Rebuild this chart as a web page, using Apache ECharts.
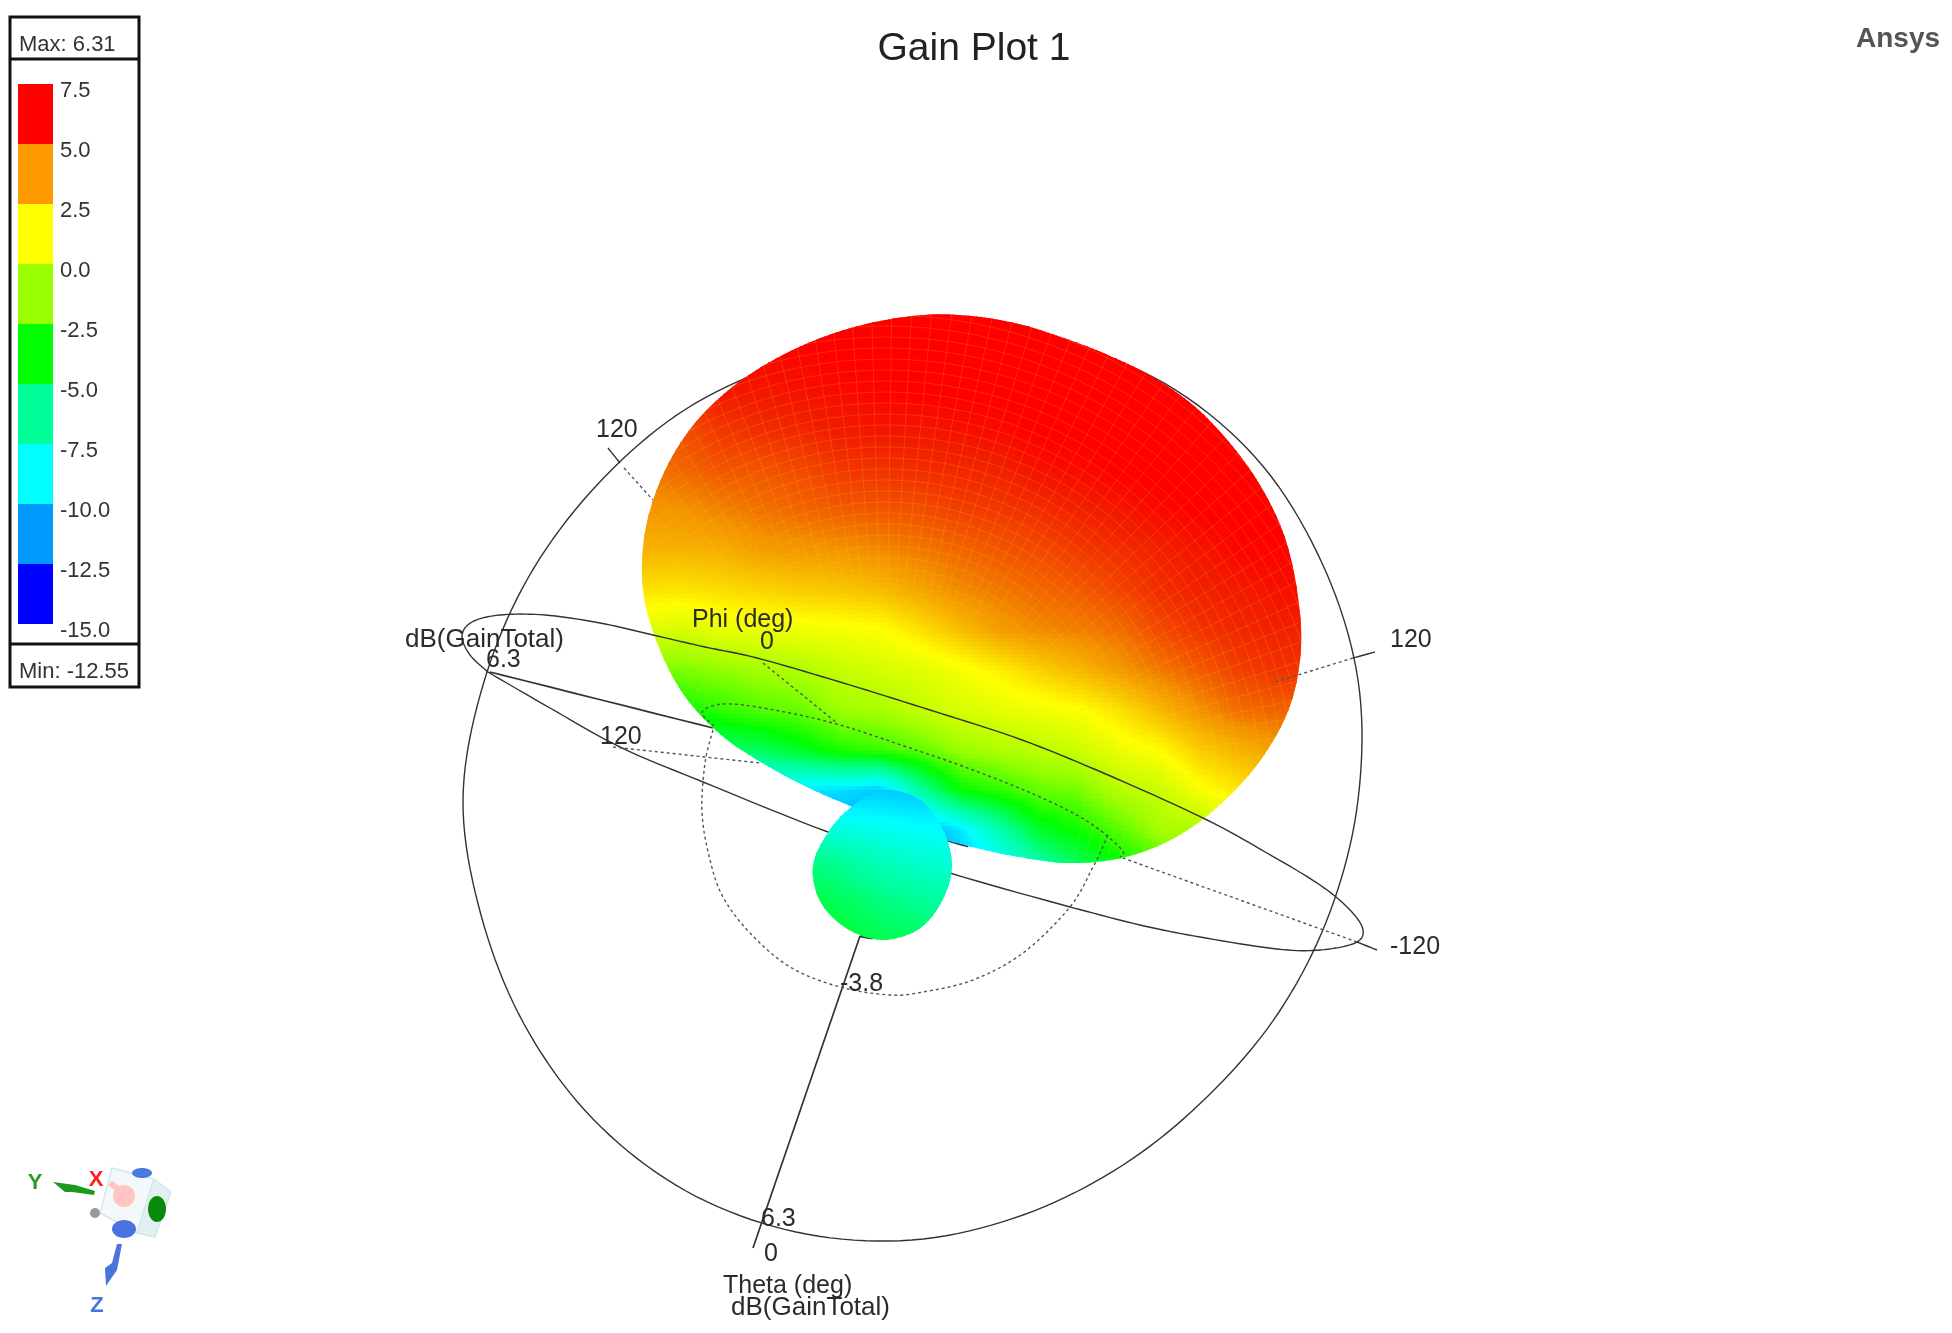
<!DOCTYPE html>
<html>
<head>
<meta charset="utf-8">
<title>Gain Plot 1</title>
<script src="https://cdn.jsdelivr.net/npm/echarts@6/dist/echarts.min.js"></script>
<style>
  html, body { margin: 0; padding: 0; background: #fff; }
  #chart { width: 1952px; height: 1333px; filter: blur(0.7px); }
</style>
</head>
<body>
<div id="chart"></div>
<script>
// legend scale
const legendTicks = [-15, -12.5, -10, -7.5, -5, -2.5, 0, 2.5, 5, 7.5];
const legendColors = ['#0000ff', '#0099ff', '#00ffff', '#00ff99', '#00ff00', '#99ff00', '#ffff00', '#ff9900', '#ff0000'];
const maxLabel = 'Max: 6.31';
const minLabel = 'Min: -12.55';

const mainX = [640, 680, 720, 760, 800, 840, 880, 920, 960, 1000, 1040, 1080, 1120, 1160, 1200, 1240, 1280, 1320];
const mainY = [310, 350, 390, 430, 470, 510, 550, 590, 630, 670, 710, 750, 790, 830, 870];
const mainGain = [
  [5.9, 6.0, 6.3, 6.3, 6.3, 6.3, 6.3, 6.3, 6.3, 6.3, 6.3, 6.3, 6.3, 6.3, 6.3, 6.3, 6.3, 6.3],
  [5.5, 5.7, 6.2, 6.2, 6.2, 6.3, 6.3, 6.3, 6.3, 6.3, 6.3, 6.3, 6.3, 6.3, 6.3, 6.3, 6.3, 6.3],
  [5.2, 5.4, 5.9, 5.9, 6.0, 6.1, 6.2, 6.3, 6.3, 6.3, 6.3, 6.3, 6.3, 6.3, 6.3, 6.3, 6.3, 6.3],
  [4.7, 4.9, 5.3, 5.5, 5.6, 5.8, 5.9, 5.9, 6.0, 6.1, 6.3, 6.3, 6.3, 6.3, 6.3, 6.3, 6.3, 6.3],
  [4.2, 4.5, 4.8, 4.8, 5.0, 5.3, 5.4, 5.5, 5.6, 5.7, 6.0, 6.1, 6.3, 6.3, 6.3, 6.3, 6.3, 6.3],
  [3.6, 3.7, 4.0, 4.3, 4.5, 4.7, 4.8, 4.9, 5.2, 5.3, 5.5, 5.7, 5.9, 6.1, 6.3, 6.3, 6.3, 6.3],
  [3.0, 3.0, 3.1, 3.5, 3.6, 3.7, 3.9, 4.2, 4.5, 4.8, 5.0, 5.3, 5.5, 5.7, 5.9, 6.2, 6.2, 6.2],
  [1.9, 1.8, 2.0, 2.2, 2.4, 2.5, 2.8, 3.3, 3.9, 4.2, 4.5, 4.7, 5.1, 5.5, 5.7, 5.8, 6.0, 6.0],
  [0.5, 0.2, 0.7, 0.8, 0.9, 1.0, 1.2, 1.9, 2.7, 3.5, 3.9, 4.1, 4.4, 5.0, 5.4, 5.6, 5.7, 5.7],
  [-1.5, -1.8, -1.4, -1.0, -0.7, -0.2, 0.2, 0.5, 1.0, 1.6, 2.3, 2.9, 3.6, 4.2, 4.7, 5.2, 5.4, 5.4],
  [-3.8, -3.75, -3.0, -2.4, -2.1, -1.1, -0.9, -0.2, 0.3, 0.6, 0.9, 1.2, 1.9, 2.9, 3.75, 4.4, 4.6, 4.6],
  [-6.0, -6.0, -5.5, -5.3, -4.3, -3.3, -2.8, -2.2, -1.2, -0.7, -0.4, 0, 0.8, 1.3, 2.4, 3.0, 3.5, 3.5],
  [-9.0, -9.0, -9.0, -9.0, -9.3, -9.5, -10, -6.5, -3.75, -3.0, -2.1, -1.8, -0.6, -0.1, 1.1, 1.8, 2.2, 2.2],
  [-11, -11, -11, -11, -11, -11, -11, -11, -9.3, -6.8, -4.4, -3.5, -2.4, -1.0, -0.8, 0.5, 1.0, 1.0],
  [-11, -11, -11, -11, -11, -11, -11, -11, -10.5, -9.0, -7.0, -5.5, -4.0, -3.0, -2.0, -1.0, 0, 0]
];

// gain
const backX = [800, 840, 880, 920, 960];
const backY = [780, 820, 860, 900, 940];
const backGain = [
  [-10.5, -10.5, -10.5, -10.5, -10.5],
  [-8.0, -8.5, -8.7, -9.0, -9.0],
  [-5.8, -6.3, -7.1, -7.6, -7.9],
  [-4.8, -5.2, -5.8, -6.2, -6.6],
  [-4.2, -4.6, -5.0, -5.3, -5.6]
];

// traces
const mainOutline = [[1297, 590], [1301, 648], [1290, 706], [1262, 758], [1224, 801], [1178, 836], [1126, 857], [1071, 863], [1019, 857], [972, 847], [929, 835], [888, 821], [848, 805], [807, 787], [764, 764], [721, 735], [684, 695], [658, 645], [643, 590], [645, 532], [662, 477], [691, 428], [731, 388], [777, 358], [826, 336], [875, 322], [924, 315], [972, 316], [1019, 324], [1064, 338], [1108, 355], [1151, 376], [1193, 405], [1229, 442], [1260, 485], [1284, 535]];
const backOutline = [[952, 866], [942, 901], [919, 929], [882, 940], [846, 928], [820, 901], [813, 866], [827, 834], [849, 809], [882, 790], [920, 800], [943, 830]];

const bigCircle = [[912, 335], [794, 360], [686, 409], [597, 485], [528, 578], [483, 685], [463, 800], [481, 915], [524, 1024], [593, 1119], [686, 1191], [796, 1232], [912, 1240], [1023, 1215], [1123, 1165], [1208, 1096], [1279, 1012], [1330, 912], [1358, 800], [1358, 680], [1322, 563], [1255, 457], [1155, 378], [1035, 339]];
const phiRingFront = [[488, 672], [470, 655], [462, 636], [472, 622], [500, 615], [545, 615], [600, 623], [653, 635], [705, 647], [757, 658], [840, 682], [930, 710], [1022, 740], [1115, 778], [1207, 820], [1267, 853], [1320, 885], [1350, 910], [1363, 930], [1355, 943], [1320, 950], [1277, 949], [1200, 937], [1140, 925], [1070, 907]];
const phiRingBack = [[1070, 907], [950, 873], [828, 832], [703, 782], [620, 747], [550, 708], [493, 675], [488, 672]];
const gainSpoke = [[490, 672], [713, 728]];
const gainSpokeStub = [[947, 840], [968, 846]];
const thetaSpoke = [[860, 936], [753, 1248]];
const thetaSpokeStub = [[860, 936], [873, 938]];
const ringUpper = [[714, 726], [702, 712], [723, 704], [763, 708], [833, 723], [907, 747], [973, 770], [1040, 797], [1090, 823], [1122, 850], [1120, 857]];
const ringLower = [[1108, 835], [1100, 853], [1093, 867], [1070, 907], [1023, 953], [973, 980], [923, 992], [890, 995], [840, 987], [790, 967], [750, 933], [723, 897], [710, 860], [702, 813], [705, 763], [713, 730]];
const tickTopLeft = [[608, 448], [620, 463]];
const tickRight = [[1375, 652], [1353, 658]];
const tickLowerRight = [[1377, 950], [1357, 942]];
const dashTopLeft = [[624, 468], [653, 500]];
const dashRight = [[1353, 658], [1272, 683]];
const dashPhi = [[763, 663], [837, 723]];
const dashLowerLeft = [[613, 747], [760, 763]];
const dashLowerRight = [[1357, 942], [1120, 857]];

const textMarks = [
  ['dB(GainTotal)', 405, 640, 26], ['6.3', 486, 660, 25], ['Phi (deg)', 692, 620, 25], ['0', 760, 642, 25],
  ['120', 600, 737, 25], ['120', 596, 430, 25], ['120', 1390, 640, 25], ['-120', 1390, 947, 25], ['-3.8', 840, 984, 25],
  ['6.3', 761, 1219, 25], ['0', 764, 1254, 25], ['Theta (deg)', 723, 1286, 25], ['dB(GainTotal)', 731, 1308, 26]
];

// colour at the middle of each legend band, used to shade the lobes
const colorStops = legendColors.map((c, i) => [legendTicks[i] + 1.25, parseInt(c.slice(1, 3), 16), parseInt(c.slice(3, 5), 16), parseInt(c.slice(5, 7), 16)]);
function gainColor(g, dim) {
  let r = 255, gr = 0, b = 0;
  if (g <= colorStops[0][0]) {
    [, r, gr, b] = colorStops[0];
  } else {
    for (let k = 1; k < colorStops.length; k++) {
      if (g <= colorStops[k][0]) {
        const t = (g - colorStops[k - 1][0]) / (colorStops[k][0] - colorStops[k - 1][0]);
        r = colorStops[k - 1][1] + (colorStops[k][1] - colorStops[k - 1][1]) * t;
        gr = colorStops[k - 1][2] + (colorStops[k][2] - colorStops[k - 1][2]) * t;
        b = colorStops[k - 1][3] + (colorStops[k][3] - colorStops[k - 1][3]) * t;
        break;
      }
    }
  }
  // facets of the mesh read a little darker than its lines in the orange part
  let f = 1;
  if (dim) {
    if (g > 1.25 && g < 4) f = 1 - 0.05 * (g - 1.25) / 2.75;
    else if (g >= 4 && g < 5.8) f = 0.95;
    else if (g >= 5.8) f = 0.95 + 0.05 * Math.min(1, (g - 5.8) / 0.5);
  }
  return `rgb(${Math.round(r * f)},${Math.round(gr * f)},${Math.round(b * f)})`;
}

// smooth the read points for drawing, same idea as the line series smooth flag
function spline(pts, closed) {
  const out = [];
  const n = pts.length;
  const at = (i) => (closed ? pts[(i + n) % n] : pts[Math.max(0, Math.min(n - 1, i))]);
  const last = closed ? n : n - 1;
  for (let i = 0; i < last; i++) {
    const [p0, p1, p2, p3] = [at(i - 1), at(i), at(i + 1), at(i + 2)];
    for (let k = 0; k < 10; k++) {
      const t = k / 10;
      const c = (a, b, d, e) => 0.5 * (2 * b + (d - a) * t + (2 * a - 5 * b + 4 * d - e) * t * t + (3 * b - a - 3 * d + e) * t * t * t);
      out.push([c(p0[0], p1[0], p2[0], p3[0]), c(p0[1], p1[1], p2[1], p3[1])]);
    }
  }
  if (closed) out.push(out[0]);
  else out.push(pts[n - 1]);
  return out;
}

function lobeSeries(name, xs, ys, gains, outline, z, dim) {
  const cells = [];
  for (let j = 0; j < ys.length - 1; j++) {
    for (let i = 0; i < xs.length - 1; i++) cells.push([i, j]);
  }
  const steps = 10;
  return {
    type: 'custom',
    name,
    z,
    silent: true,
    clip: false,
    xAxisIndex: 0,
    yAxisIndex: 0,
    data: cells,
    renderItem(params, api) {
      const i = api.value(0);
      const j = api.value(1);
      const a = api.coord([xs[i], ys[j]]);
      const b = api.coord([xs[i + 1], ys[j + 1]]);
      const w = (b[0] - a[0]) / steps;
      const h = (b[1] - a[1]) / steps;
      const children = [];
      for (let v = 0; v < steps; v++) {
        for (let u = 0; u < steps; u++) {
          const s = (u + 0.5) / steps;
          const t = (v + 0.5) / steps;
          const g = (gains[j][i] * (1 - s) + gains[j][i + 1] * s) * (1 - t) +
            (gains[j + 1][i] * (1 - s) + gains[j + 1][i + 1] * s) * t;
          children.push({
            type: 'rect',
            shape: { x: a[0] + u * w, y: a[1] + v * h, width: w + 1, height: h + 1 },
            style: { fill: gainColor(g, dim) }
          });
        }
      }
      return {
        type: 'group',
        children,
        clipPath: { type: 'polygon', shape: { points: spline(outline.map((p) => api.coord(p)), true) } }
      };
    }
  };
}

// theta/phi mesh drawn over the main lobe, rings and meridians round the neck
const meshPole = [885, 790];
function meshSeries(z) {
  return {
    type: 'custom',
    z,
    silent: true,
    clip: false,
    xAxisIndex: 0,
    yAxisIndex: 0,
    data: [meshPole],
    renderItem(params, api) {
      const c = api.coord([api.value(0), api.value(1)]);
      const stroke = 'rgba(255,215,30,0.18)';
      const children = [];
      for (let r = 200; r < 520; r += 11) {
        children.push({ type: 'circle', shape: { cx: c[0], cy: c[1], r }, style: { fill: 'none', stroke, lineWidth: 1 } });
      }
      for (let deg = 170; deg < 370; deg += 2.4) {
        const rad = deg * Math.PI / 180;
        children.push({
          type: 'line',
          shape: { x1: c[0] + 200 * Math.cos(rad), y1: c[1] + 200 * Math.sin(rad), x2: c[0] + 520 * Math.cos(rad), y2: c[1] + 520 * Math.sin(rad) },
          style: { stroke, lineWidth: 1 }
        });
      }
      return {
        type: 'group',
        children,
        clipPath: { type: 'polygon', shape: { points: spline(mainOutline.map((p) => api.coord(p)), true) } }
      };
    }
  };
}

function trace(points, dashed, z, width, closed) {
  return {
    type: 'custom',
    data: points,
    xAxisIndex: 0,
    yAxisIndex: 0,
    z,
    silent: true,
    clip: false,
    renderItem(params, api) {
      if (params.dataIndex !== 0) return null;
      return {
        type: 'polyline',
        shape: { points: spline(points.map((p) => api.coord(p)), closed) },
        style: {
          fill: 'none',
          stroke: dashed ? '#555' : '#333',
          lineWidth: width || 1.4,
          lineDash: dashed ? [3, 3] : null
        }
      };
    }
  };
}

const legendBands = legendColors.map((c, i) => [legendTicks[i], legendTicks[i + 1]]);

const font = 'Liberation Sans, Arial, sans-serif';
const textEls = textMarks.map(([text, x, y, size]) => ({
  type: 'text', x, y, z: 20,
  style: { text, font: `${size}px ${font}`, fill: '#2b2b2b', align: 'left', verticalAlign: 'middle' }
}));

const legendFrame = [
  { type: 'rect', z: 20, shape: { x: 10, y: 17, width: 129, height: 670 }, style: { fill: 'none', stroke: '#111', lineWidth: 3 } },
  { type: 'line', z: 20, shape: { x1: 10, y1: 59, x2: 139, y2: 59 }, style: { stroke: '#111', lineWidth: 3 } },
  { type: 'line', z: 20, shape: { x1: 10, y1: 644, x2: 139, y2: 644 }, style: { stroke: '#111', lineWidth: 3 } },
  { type: 'text', x: 19, y: 45, z: 20, style: { text: maxLabel, font: `22px ${font}`, fill: '#333', verticalAlign: 'middle' } },
  { type: 'text', x: 19, y: 672, z: 20, style: { text: minLabel, font: `22px ${font}`, fill: '#333', verticalAlign: 'middle' } }
];

// orientation triad, bottom left
const triad = [
  { type: 'polygon', shape: { points: [[112, 1168], [154, 1179], [137, 1233], [100, 1213]] }, style: { fill: '#f3f9fb', stroke: '#d5e6ec', lineWidth: 1.5 } },
  { type: 'polygon', shape: { points: [[154, 1179], [171, 1192], [155, 1237], [137, 1233]] }, style: { fill: '#e2f0f2', stroke: '#d5e6ec', lineWidth: 1.5 } },
  { type: 'ellipse', shape: { cx: 142, cy: 1173, rx: 10, ry: 5 }, style: { fill: '#4a7ae0' } },
  { type: 'ellipse', shape: { cx: 124, cy: 1229, rx: 12, ry: 9 }, style: { fill: '#4a73e0' } },
  { type: 'ellipse', shape: { cx: 157, cy: 1209, rx: 9, ry: 13 }, style: { fill: '#0a8a0a' } },
  { type: 'circle', shape: { cx: 124, cy: 1196, r: 11 }, style: { fill: '#ffc4c4' } },
  { type: 'line', shape: { x1: 110, y1: 1183, x2: 122, y2: 1192 }, style: { stroke: '#ffc4c4', lineWidth: 6 } },
  { type: 'circle', shape: { cx: 95, cy: 1213, r: 5 }, style: { fill: '#999' } },
  { type: 'polygon', shape: { points: [[53, 1182], [75, 1185], [95, 1191], [94, 1195], [72, 1192], [65, 1192]] }, style: { fill: '#1b9a1b' } },
  { type: 'polygon', shape: { points: [[117, 1244], [122, 1244], [117, 1270], [106, 1286], [105, 1268], [112, 1263]] }, style: { fill: '#4a73e0' } },
  { type: 'text', x: 35, y: 1183, style: { text: 'Y', font: `bold 22px ${font}`, fill: '#2a9a2a', align: 'center', verticalAlign: 'middle' } },
  { type: 'text', x: 96, y: 1180, style: { text: 'X', font: `bold 22px ${font}`, fill: '#ff2020', align: 'center', verticalAlign: 'middle' } },
  { type: 'text', x: 97, y: 1306, style: { text: 'Z', font: `bold 22px ${font}`, fill: '#4a73e0', align: 'center', verticalAlign: 'middle' } }
].map((el) => ({ ...el, z: 20 }));

const chart = echarts.init(document.getElementById('chart'), null, { renderer: 'canvas' });
chart.setOption({
  animation: false,
  backgroundColor: '#fff',
  title: {
    text: 'Gain Plot 1',
    left: 969,
    top: 25,
    textAlign: 'center',
    textStyle: { fontFamily: font, fontSize: 39, fontWeight: 'normal', color: '#222' }
  },
  grid: [
    { left: 0, top: 0, width: 1952, height: 1333 },
    { left: 18, top: 84, width: 35, height: 540 }
  ],
  xAxis: [
    { type: 'value', min: 0, max: 1952, show: false, gridIndex: 0 },
    { type: 'value', min: 0, max: 1, show: false, gridIndex: 1 }
  ],
  yAxis: [
    { type: 'value', min: 0, max: 1333, inverse: true, show: false, gridIndex: 0 },
    {
      type: 'value', min: -15, max: 7.5, interval: 2.5, gridIndex: 1, position: 'right',
      axisLine: { show: false }, axisTick: { show: false }, splitLine: { show: false },
      axisLabel: {
        margin: 7, showMinLabel: true, showMaxLabel: true,
        formatter: (v) => `{v|${v.toFixed(1)}}`,
        rich: { v: { color: '#333', fontFamily: font, fontSize: 22, padding: [14, 0, 0, 0] } }
      }
    }
  ],
  series: [
    trace(bigCircle, false, 1, 1.4, true),
    trace(phiRingBack, false, 1),
    trace(gainSpoke, false, 1, 1.7),
    trace(gainSpokeStub, false, 1, 3),
    trace(dashLowerLeft, true, 1),
    trace(dashLowerRight, true, 1),
    trace(dashTopLeft, true, 1),
    lobeSeries('main lobe', mainX, mainY, mainGain, mainOutline, 2, true),
    meshSeries(3),
    lobeSeries('back lobe', backX, backY, backGain, backOutline, 3, false),
    trace(thetaSpoke, false, 1, 1.7),
    trace(thetaSpokeStub, false, 1, 3),
    trace(phiRingFront, false, 4),
    trace(ringUpper, true, 4),
    trace(ringLower, true, 4),
    trace(dashPhi, true, 4),
    trace(dashRight, true, 4),
    trace(tickTopLeft, false, 4),
    trace(tickRight, false, 4),
    trace(tickLowerRight, false, 4),
    {
      type: 'custom',
      xAxisIndex: 1,
      yAxisIndex: 1,
      silent: true,
      data: legendBands,
      encode: { y: [0, 1] },
      renderItem(params, api) {
        const lo = api.coord([0, api.value(0)]);
        const hi = api.coord([1, api.value(1)]);
        return {
          type: 'rect',
          shape: { x: lo[0], y: hi[1], width: hi[0] - lo[0], height: lo[1] - hi[1] },
          style: { fill: legendColors[params.dataIndex] }
        };
      }
    }
  ],
  graphic: [
    ...legendFrame,
    ...textEls,
    ...triad,
    { type: 'text', x: 1856, y: 39, z: 20, style: { text: 'Ansys', font: `bold 28px ${font}`, fill: '#555', verticalAlign: 'middle' } }
  ]
});
</script>
</body>
</html>
